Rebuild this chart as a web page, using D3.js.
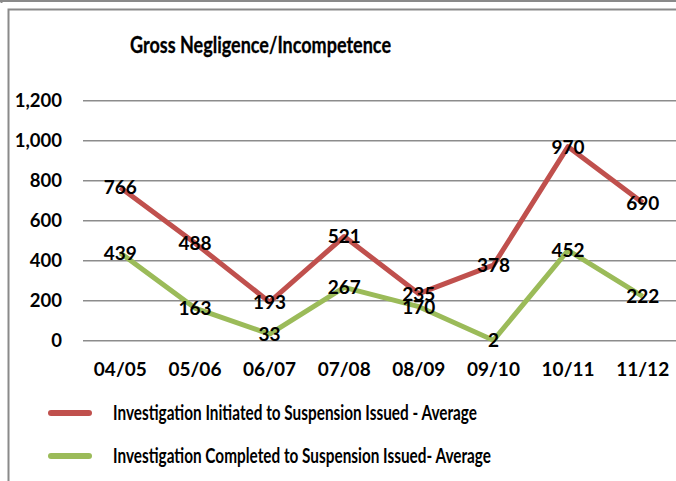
<!DOCTYPE html>
<html lang="en">
<head>
<meta charset="UTF-8">
<title>Gross Negligence/Incompetence</title>
<script src="https://cdn.jsdelivr.net/npm/d3@7"></script>
<style>
    body { margin: 0; background: #fff; overflow: hidden; }
    svg { display: block; font-family: Lato, "Open Sans", sans-serif; font-weight: bold; }
</style>
</head>
<body>
<div id="chart"></div>
<script>
    const years = ["04/05", "05/06", "06/07", "07/08", "08/09", "09/10", "10/11", "11/12"];
    const initiated = [766, 488, 193, 521, 235, 378, 970, 690];
    const completed = [439, 163, 33, 267, 170, 2, 452, 222];
    const yTicks = [0, 200, 400, 600, 800, 1000, 1200];
    const seriesNames = [
        "Investigation Initiated to Suspension Issued - Average",
        "Investigation Completed to Suspension Issued- Average"
    ];
    const colors = ["#C0504D", "#9BBB59"];

    const width = 676, height = 481;
    const svg = d3.select("#chart").append("svg")
        .attr("width", width)
        .attr("height", height);

    // frame lines
    svg.append("line").attr("x1", 0).attr("x2", width).attr("y1", 1).attr("y2", 1)
        .attr("stroke", "#8a8a8a").attr("stroke-width", 2);
    svg.append("line").attr("x1", 1.5).attr("x2", 1.5).attr("y1", 0).attr("y2", 3)
        .attr("stroke", "#8a8a8a").attr("stroke-width", 2);
    svg.append("path").attr("d", `M8.5,${height}V9.5H${width}`)
        .attr("fill", "none").attr("stroke", "#8a8a8a").attr("stroke-width", 2);

    // title (squeezed a bit to get Calibri-like proportions)
    svg.append("text")
        .attr("x", 130).attr("y", 53)
        .attr("font-size", 23)
        .attr("textLength", 261)
        .attr("lengthAdjust", "spacingAndGlyphs")
        .attr("stroke", "#000").attr("stroke-width", 0.3)
        .text("Gross Negligence/Incompetence");

    const x = d3.scaleBand().domain(years).range([83, 680]);
    const y = d3.scaleLinear().domain([0, 1200]).range([340.7, 100.7]);

    // gridlines
    svg.append("g")
        .selectAll("line")
        .data(yTicks)
        .join("line")
        .attr("x1", 83).attr("x2", width)
        .attr("y1", d => y(d)).attr("y2", d => y(d))
        .attr("stroke", "#8c8c8c").attr("stroke-width", 1.6);

    // y axis labels
    const yAxis = svg.append("g")
        .attr("transform", "translate(83,0)")
        .call(d3.axisLeft(y).tickValues(yTicks).tickSize(0).tickPadding(21).tickFormat(d3.format(",")));
    yAxis.select(".domain").remove();
    yAxis.selectAll("text").attr("font-size", 18.5).attr("fill", "#000")
        .attr("font-family", "Lato, sans-serif").attr("font-weight", "bold");

    // x axis labels
    const xAxis = svg.append("g")
        .attr("transform", "translate(0,361)")
        .call(d3.axisBottom(x).tickSize(0).tickPadding(0));
    xAxis.select(".domain").remove();
    xAxis.selectAll("text").attr("font-size", 19).attr("fill", "#000")
        .attr("font-family", "Lato, sans-serif").attr("font-weight", "bold")
        .attr("dy", "0.78em");

    const cx = d => x(d) + x.bandwidth() / 2;
    const line = d3.line().x((d, i) => cx(years[i])).y(d => y(d));

    [initiated, completed].forEach((vals, k) => {
        svg.append("path")
            .datum(vals)
            .attr("d", line)
            .attr("fill", "none")
            .attr("stroke", colors[k])
            .attr("stroke-width", 5)
            .attr("stroke-linejoin", "round");
    });

    [initiated, completed].forEach(vals => {
        svg.append("g")
            .selectAll("text")
            .data(vals)
            .join("text")
            .attr("x", (d, i) => cx(years[i]))
            .attr("y", d => y(d))
            .attr("dy", "0.36em")
            .attr("text-anchor", "middle")
            .attr("font-size", 19)
            .text(d => d);
    });

    // legend
    const legendWidths = [364, 378];
    const legend = svg.append("g")
        .selectAll("g")
        .data(seriesNames)
        .join("g")
        .attr("transform", (d, i) => `translate(0,${413 + i * 43})`);
    legend.append("line")
        .attr("x1", 51).attr("x2", 89)
        .attr("stroke", (d, i) => colors[i])
        .attr("stroke-width", 6)
        .attr("stroke-linecap", "round");
    legend.append("text")
        .attr("x", 113).attr("dy", "0.36em")
        .attr("font-size", 20)
        .attr("textLength", (d, i) => legendWidths[i])
        .attr("lengthAdjust", "spacingAndGlyphs")
        .text(d => d);
</script>
</body>
</html>
